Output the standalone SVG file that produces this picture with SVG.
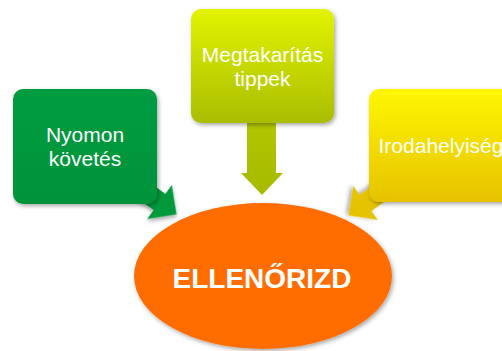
<svg xmlns="http://www.w3.org/2000/svg" width="502" height="351" viewBox="0 0 502 351">
<defs>
<linearGradient id="gLime" x1="0" y1="0" x2="0" y2="1"><stop offset="0" stop-color="#E2F400"/><stop offset="1" stop-color="#A9BD00"/></linearGradient>
<linearGradient id="gLimeA" x1="0" y1="0" x2="0" y2="1"><stop offset="0" stop-color="#B4C800"/><stop offset="1" stop-color="#A6BA00"/></linearGradient>
<linearGradient id="gYel" x1="0" y1="0" x2="0" y2="1"><stop offset="0" stop-color="#FFF700"/><stop offset="1" stop-color="#E6C200"/></linearGradient>
<linearGradient id="gGrn" x1="0" y1="0" x2="0" y2="1"><stop offset="0" stop-color="#009C40"/><stop offset="1" stop-color="#00933B"/></linearGradient>
<filter id="sh" x="-20%" y="-20%" width="140%" height="140%"><feDropShadow dx="1.5" dy="2" stdDeviation="2" flood-color="#000" flood-opacity="0.35"/></filter>
</defs>
<style>
.t{font-family:"Liberation Sans",Arial,sans-serif;font-size:21px;fill:#fff;text-anchor:middle}
.b{font-family:"Liberation Sans",Arial,sans-serif;font-size:28px;font-weight:bold;fill:#fff;text-anchor:middle}
</style>
<g id="connectors">
<polygon transform="translate(159.5,202) rotate(36)" points="-40,-10 0,-10 0,-21 21,0 0,21 0,10 -40,10" fill="#009A3E" filter="url(#sh)"/>
<polygon points="247,110 276,110 276,173 283,173 262,195 241,173 247,173" fill="url(#gLimeA)"/>
<polygon transform="translate(365.5,203) rotate(144)" points="-40,-10 0,-10 0,-21 21,0 0,21 0,10 -40,10" fill="#E4C400" filter="url(#sh)"/>
</g>
<g id="ellenorizd">
<ellipse cx="263" cy="276" rx="129" ry="73" fill="#FF6D00" filter="url(#sh)"/>
<text class="b" x="262" y="288">ELLENŐRIZD</text>
</g>
<g id="nyomon">
<rect x="13" y="89" width="144" height="115" rx="10" fill="url(#gGrn)" filter="url(#sh)"/>
<text class="t" x="85" y="142">Nyomon</text>
<text class="t" x="85" y="166">követés</text>
</g>
<g id="megtakaritas">
<rect x="191" y="9" width="143" height="114" rx="10" fill="url(#gLime)" filter="url(#sh)"/>
<text class="t" x="262.5" y="62">Megtakarítás</text>
<text class="t" x="262.5" y="86">tippek</text>
</g>
<g id="irodahelyiseg">
<rect x="369" y="89" width="144" height="113" rx="10" fill="url(#gYel)" filter="url(#sh)"/>
<text class="t" x="441" y="153">Irodahelyiség</text>
</g>
</svg>
